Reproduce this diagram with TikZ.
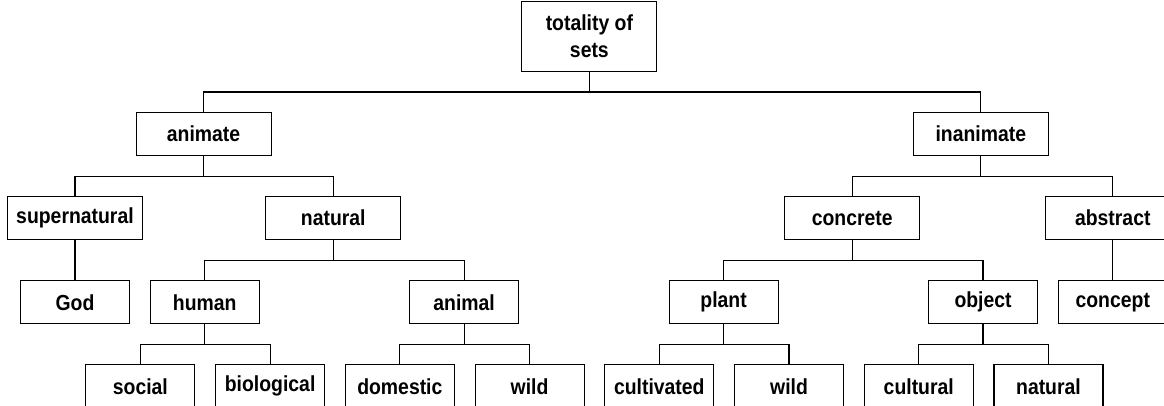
\documentclass[tikz,border=0pt]{standalone}
\usepackage{fontspec}
\setmainfont{Liberation Sans}
\newfontfamily\boxfont[FakeStretch=0.89]{Liberation Sans}
\usepackage{tikz}
\usetikzlibrary{positioning,calc}
\tikzset{
  box/.style={rectangle, draw=black, fill=white, thick,
              minimum width=27.25mm, minimum height=10.75mm,
              align=center, inner sep=2pt,
              font=\boxfont\fontsize{15.5pt}{19.6pt}\selectfont\bfseries},
  wbox/.style={box, minimum width=33.75mm},
  rbox/.style={wbox, minimum height=17.5mm},
  link/.style={draw=black, thick},
}

\begin{document}
\begin{tikzpicture}[node distance=10mm and 4.9mm]

  % ---- frame (source is cropped at right and bottom) ----
  \useasboundingbox (-35.1mm,-4.65mm) rectangle (255.9mm,96.6mm);
  \fill[white] (-35.1mm,-4.65mm) rectangle (255.9mm,96.6mm);
  \clip (-35.1mm,-4.65mm) rectangle (255.9mm,96.6mm);

  % ---- bottom row ----
  \node[box] (social) at (0,0) {social};
  \node[box, right=of social] (bio) {biological};
  \node[box, right=of bio] (dom) {domestic};
  \node[box, right=of dom] (wildA) {wild};
  \node[box, right=of wildA] (cult) {cultivated};
  \node[box, right=of cult] (wildP) {wild};
  \node[box, right=of wildP] (cultr) {cultural};
  \node[box, right=of cultr] (natr) {natural};

  % ---- third row ----
  \node[box, above=of social, xshift=16.075mm] (human) {human};
  \node[box, above=of dom, xshift=16.075mm] (animal) {animal};
  \node[box, above=of cult, xshift=16.075mm] (plant) {plant};
  \node[box, above=of cultr, xshift=16.075mm] (object) {object};
  \node[box, left=of human] (god) {God};
  \node[box, right=of object] (concept) {concept};

  % ---- second row ----
  \node[wbox, above=of god] (supnat) {supernatural};
  \node[wbox, above=of human, xshift=32.15mm] (nat) {natural};
  \node[wbox, above=of plant, xshift=32.15mm] (conc) {concrete};
  \node[wbox, above=of concept] (abst) {abstract};

  % ---- first row ----
  \node[wbox, above=of supnat, xshift=32.15mm] (anim) {animate};
  \node[wbox, above=of conc, xshift=32.15mm] (inan) {inanimate};

  % ---- root ----
  \node[rbox, above=of anim, xshift=96.45mm] (root) {totality of\\sets};

  % ===== tree edges =====
  \foreach \p/\c in {root/anim, root/inan, anim/supnat, anim/nat, inan/conc,
                     inan/abst, supnat/god, nat/human, nat/animal, conc/plant,
                     conc/object, abst/concept, human/social, human/bio,
                     animal/dom, animal/wildA, plant/cult, plant/wildP,
                     object/cultr, object/natr}
    { \draw[link] (\p.south) -- ++(0,-5mm) -| (\c.north); }

\end{tikzpicture}
\end{document}
